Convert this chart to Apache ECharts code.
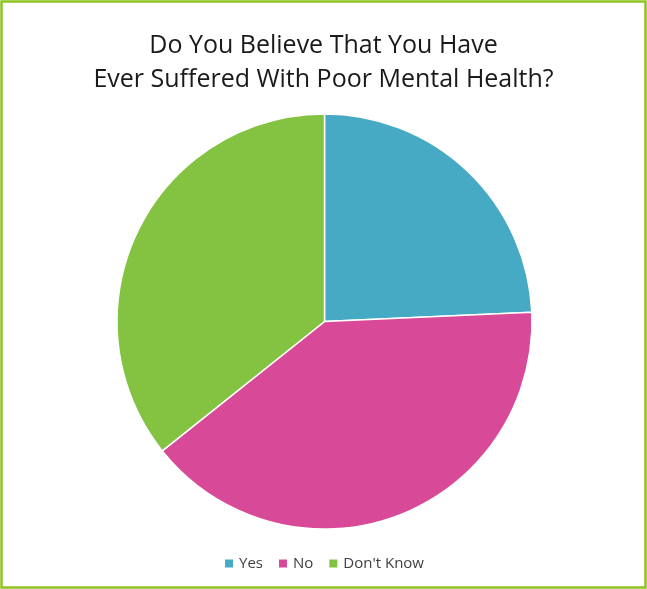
<!DOCTYPE html>
<html>
<head>
<meta charset="utf-8">
<script src="https://cdn.jsdelivr.net/npm/echarts@6/dist/echarts.min.js"></script>
<style>
html,body{margin:0;padding:0;background:#fff;}
#chart{width:647px;height:589px;}
</style>
</head>
<body>
<div id="chart"></div>
<script>
const titleText = "Do You Believe That You Have\nEver Suffered With Poor Mental Health?";
const categories = ["Yes", "No", "Don't Know"];
const values = [34, 56, 50];
const colors = ["#46aac4", "#d84a97", "#84c242"];

const chart = echarts.init(document.getElementById('chart'));
chart.setOption({
  animation: false,
  backgroundColor: '#ffffff',
  graphic: [{
    type: 'rect',
    shape: {x: 1.5, y: 1.5, width: 644, height: 586},
    style: {fill: 'none', stroke: '#8fc31f', lineWidth: 2.5},
    silent: true
  }],
  title: {
    text: titleText,
    left: 'center',
    top: 24,
    textStyle: {
      fontFamily: 'Open Sans, Liberation Sans, sans-serif',
      fontSize: 25,
      fontWeight: 'normal',
      color: '#1a1a1a',
      lineHeight: 34
    }
  },
  legend: {
    data: categories,
    bottom: 13,
    left: 'center',
    icon: 'rect',
    itemWidth: 10,
    itemHeight: 10,
    itemGap: 14,
    textStyle: {fontFamily: 'Open Sans, Liberation Sans, sans-serif', fontSize: 15, color: '#404040'}
  },
  series: [{
    type: 'pie',
    center: [324.5, 321.5],
    radius: 207.5,
    startAngle: 90,
    clockwise: true,
    label: {show: false},
    labelLine: {show: false},
    itemStyle: {borderColor: '#ffffff', borderWidth: 1.5},
    emphasis: {disabled: true},
    data: categories.map((c, i) => ({name: c, value: values[i], itemStyle: {color: colors[i]}}))
  }]
});
</script>
</body>
</html>
